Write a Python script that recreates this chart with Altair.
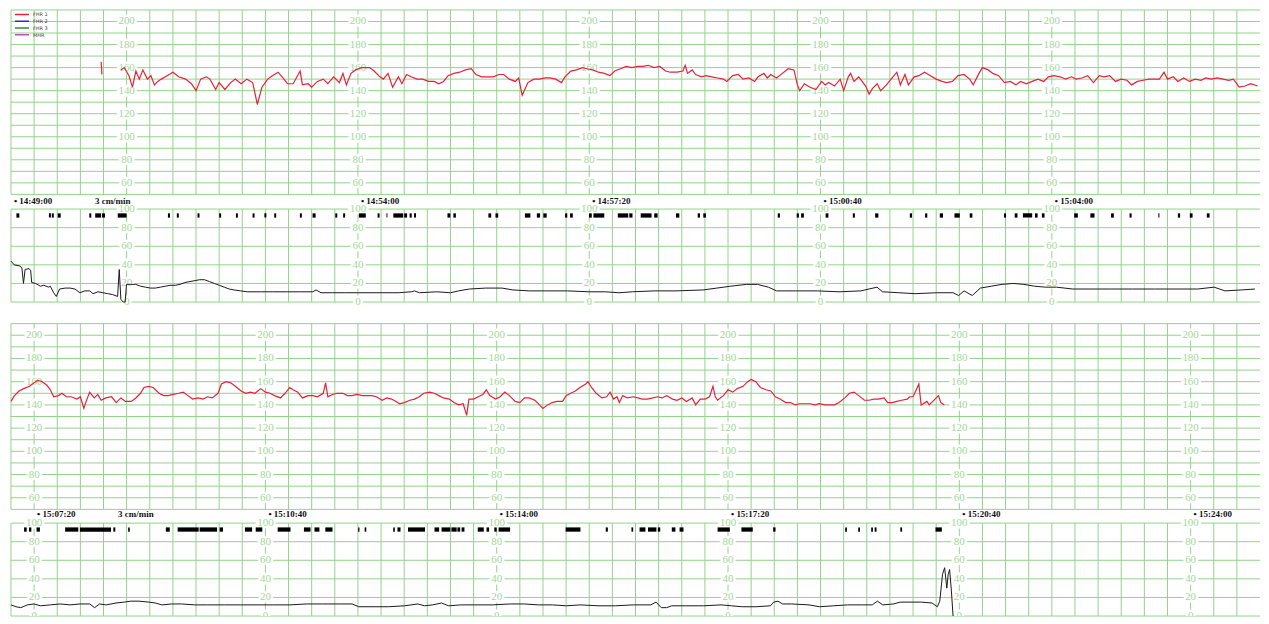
import altair as alt
import pandas as pd

# ---------------- data (seconds from 14:49:00) ----------------
# FHR, strip 1
FHR1_BLIP_T = [78.0, 78.6]
FHR1_BLIP_V = [165, 154]
FHR1_T_A = [95,98,102,105,108,111,114,118,121,124,127,130,135,140,145,151,156,160,164,169,172,177,180,185,190,194,199,204,209,213,217,222,226,231,236,239,244,250,252,257,260,265,270,274,279,284,287,290,294,298,303,310,314,319,322,326,330,335,338,342,346,351,356,361,366,370,374,378,383,388,393,398,402,407,412,417,422,426,431,436,439,442,447,452,457,462,466,471,476,479,484,489,494,498,503,508,513,518,522,527,532,537,542,546,551,556,561,566,570,576]
FHR1_V_A = [158,160,153,143,157,150,158,150,153,145,148,150,153,156,152,150,146,140,150,152,150,141,147,141,147,150,146,150,147,128,143,150,153,156,150,146,146,157,145,146,143,148,150,146,152,147,155,145,155,158,160,160,157,152,150,155,143,152,146,154,152,150,150,148,148,146,148,153,155,156,158,159,154,152,152,152,154,154,150,148,151,136,147,150,150,151,151,150,147,152,157,158,160,159,158,156,155,153,157,159,161,160,161,161,162,160,161,157,156,156]
FHR1_T_B = [581,583,585,589,592,597,601,606,611,616,619,624,629,633,638,643,646,651,654,657,662,667,672,677,680,682,686,691,696,701,704,707,712,717,720,724,726,729,733,736,739,742,745,749,752,757,761,766,769,773,776,781,785,790,795,800,805,809,814,819,824,829,832,837,840,845,849,854,859,864,869,873,878,883,888,893,897,902,907,912,917,921,926,931,936,941,945,950,955,960,965,969,974,979,984,989,993,997,1000,1005,1009,1014,1019,1024,1029,1033,1038,1043,1048,1053,1057,1062,1067,1072,1078]
FHR1_V_B = [157,162,155,158,154,152,153,152,151,150,148,153,154,150,151,148,152,155,151,154,151,155,159,158,145,140,146,143,141,148,145,147,144,150,140,152,155,148,152,148,144,137,142,146,140,145,150,156,145,154,145,152,153,156,153,150,148,147,148,153,154,150,145,155,160,158,155,153,147,148,145,148,146,148,150,148,152,153,152,150,152,150,151,153,147,153,152,153,148,150,149,145,148,149,150,150,150,156,150,152,148,151,148,150,149,151,150,151,150,149,150,143,144,146,144]

# FHR, strip 2
FHR2_T_A = [1080,1083,1087,1091,1096,1100,1103,1107,1111,1114,1117,1121,1124,1128,1132,1137,1140,1143,1145,1148,1152,1155,1158,1162,1167,1171,1175,1179,1184,1188,1192,1195,1199,1203,1208,1212,1216,1220,1225,1229,1233,1237,1242,1246,1250,1254,1259,1262,1266,1270,1274,1279,1283,1287,1291,1296,1300,1304,1308,1313,1317,1321,1324,1328,1332,1337,1341,1345,1350,1352,1354,1358,1362,1367,1371,1375,1379,1384,1388,1392,1396,1401,1405,1409,1413,1416,1420,1425,1429,1433,1437,1442,1446,1450,1454,1459,1463,1467,1471,1474,1476,1480,1484,1488]
FHR2_V_A = [143,148,152,154,156,159,161,160,157,153,147,148,150,147,147,145,147,137,143,151,146,149,144,146,147,142,146,143,143,146,150,155,156,155,150,148,148,149,150,151,148,145,146,145,147,146,150,158,160,159,156,152,150,151,150,154,151,150,148,146,150,155,153,151,146,148,148,147,150,159,147,149,150,150,148,148,149,148,148,148,147,144,146,145,143,141,142,144,145,147,150,151,150,148,146,145,142,140,141,131,145,145,147,149]
FHR2_T_B = [1491,1494,1499,1503,1507,1511,1516,1520,1524,1528,1533,1537,1540,1544,1548,1552,1557,1560,1564,1568,1572,1577,1579,1582,1586,1591,1595,1598,1601,1604,1606,1609,1613,1618,1622,1626,1630,1635,1639,1643,1647,1652,1656,1660,1664,1669,1672,1676,1680,1684,1687,1689,1691,1696,1700,1704,1708,1713,1717,1720,1724,1728,1733,1737,1741,1745,1750,1754,1758,1762,1767,1771,1775,1779,1784,1788,1792,1796,1801,1805,1809,1813,1818,1822,1826,1830,1835,1838,1842,1846,1850,1855,1857,1860,1865,1867,1872,1874,1879,1882,1884,1887]
FHR2_V_B = [153,148,145,147,151,148,143,142,146,146,144,140,137,140,142,143,143,148,150,152,155,158,160,155,150,146,147,151,145,147,142,148,146,147,146,145,145,146,147,146,148,145,144,146,143,146,140,145,145,147,156,147,144,148,153,151,154,156,160,162,160,155,153,152,147,145,142,142,140,141,141,141,140,141,140,140,140,142,146,150,151,148,144,144,145,145,146,142,142,143,144,145,147,147,158,140,143,140,145,148,142,140]

# Uterine activity, strip 1
UA1_T = [0,2.8,7.1,9.4,10.8,12.2,15.6,17.0,17.9,21.3,25.5,28.4,32.6,34.0,36.9,39.2,42.0,46.8,51.1,55.3,59.6,63.8,68.1,70.9,75.2,79.4,83.7,87.9,92.2,93.6,95.0,97.0,98.7,99.9,103.6,107.8,112.1,116.3,120.6,124.8,129.1,133.3,137.6,141.9,146.1,150.4,154.6,158.9,163.1,167.4,171.6,175.9,180.1,184.4,188.7,192.9,198.6,204.3,215.6,227.0,238.3,249.7,261.0,263.8,268.1,278.0,289.4,300.7,312.1,323.4,334.8,346.1,348.9,353.2,
         368.2,380.0,387.0,396.4,410.5,424.6,434.0,448.1,462.2,481.0,499.8,513.9,525.7,537.4,556.2,575.0,598.5,610.3,622.0,636.1,645.5,654.9,662.0,678.4,697.2,716.0,734.8,748.9,753.6,767.7,781.8,800.6,814.7,819.4,824.1,831.2,838.2,847.6,857.0,866.4,875.8,885.2,894.6,904.0,918.1,932.2,951.0,969.8,988.6,1007.4,1026.2,1040.3,1049.7,1063.8,1075.6]
UA1_V = [44,40,39,37,20,35,36,34,21,20,17,18,16,17,10,6,14,15,15,14,10,12,12,9,11,10,9,8,6,35,3,0,0,19,19,19,17,16,15,15,16,17,18,18,19,21,22,23,24,24,22,20,18,16,14,13,12,11,11,11,11,11,11,13,10,10,10,10,10,10,10,11,12,10,
         11,10,12,14,15,15,13,12,12,12,11,11,10,11,12,12,13,15,17,19,19,16,12,12,12,11,12,16,11,10,9,10,10,7,12,7,15,17,19,20,19,17,16,16,14,14,14,14,14,14,14,16,12,13,14]

# Uterine activity, strip 2
UA2_T = [1080,1084.3,1088.5,1094.2,1099.9,1105.5,1114.0,1122.6,1131.1,1139.6,1148.1,1152.3,1156.6,1162.3,1170.8,1177.9,1183.6,1190.6,1199.2,1204.8,1210.5,1219.0,1227.5,1238.9,1250.2,1264.4,1278.6,1292.8,1307.0,1321.1,1335.3,1349.5,1363.7,1375.0,1380.7,1392.1,1406.3,1420.4,1431.8,1437.5,
         1444.7,1452.3,1458.4,1469.0,1481.2,1496.4,1511.6,1523.8,1535.9,1548.1,1560.2,1572.4,1587.6,1602.8,1618.0,1633.2,1637.8,1642.3,1646.9,1651.4,1663.6,1678.8,1694.0,1703.1,1712.2,1724.4,1736.6,1739.6,1743.2,1747.2,1754.8,1770.0,1779.1,1791.3,1803.4,1815.6,1824.7,1829.3,1833.8,1843.0,1849.0,1858.2,1867.3,1876.4,1881.0,1883.1,1885.5,1887.3,1889.2,1890.4,1891.6,1893.1,1894.6]
UA2_V = [12,10,9,12,13,11,12,13,12,13,13,9,13,12,14,15,16,16,15,14,12,13,13,12,12,12,12,12,12,12,13,13,13,13,10,10,10,11,13,11,
         12,14,11,12,12,12,13,13,12,12,11,12,11,11,12,12,15,9,9,11,11,11,12,11,10,10,11,15,16,13,13,12,10,11,12,12,12,16,12,13,15,15,15,14,10,16,45,52,30,45,50,28,0]

# Fetal movement marks (start / end seconds)
MOVE1_S = [4.7,32.8,35.3,40.4,67.7,72.8,78.7,92.3,135.7,143.4,161.3,180.0,194.5,208.9,219.1,227.6,249.8,260.8,280.4,287.2,300.8,317.0,324.7,330.6,340.0,344.7,348.5,377.4,382.5,412.8,418.9,444.4,454.7,460.3,479.1,483.4,499.8,503.6,524.7,534.6,544.5,556.2,575.0,593.8,598.6,663.0,679.4,683.2,704.4,727.9,747.2,777.2,790.4,803.1,815.8,829.0,858.6,867.9,875.0,885.4,891.4,919.3,933.3,951.2,967.2,992.1,1009.0,1019.3,1034.0]
MOVE1_E = [7.2,34.5,37.0,43.0,69.4,77.9,81.3,100.0,137.5,145.1,163.0,181.7,196.2,210.6,220.8,229.3,251.5,263.4,282.1,288.9,306.8,318.7,325.5,339.1,342.5,346.5,350.2,379.9,384.7,415.2,421.3,449.1,457.5,463.2,481.0,485.8,502.2,513.0,533.7,537.4,553.9,559.1,577.9,595.8,600.9,664.9,681.3,685.6,706.8,729.7,750.0,779.1,792.3,805.9,820.4,831.3,860.4,870.3,883.0,887.7,893.7,922.5,936.9,953.6,969.0,993.0,1010.9,1021.7,1036.4]
MOVE2_S = [1091.3,1095.6,1102.1,1126.8,1139.6,1168.5,1181.3,1213.9,1224.1,1243.1,1260.4,1282.3,1291.6,1310.6,1333.3,1342.4,1351.8,1380.2,1385.8,1410.5,1414.2,1423.3,1446.2,1452.3,1460.8,1466.0,1469.6,1483.6,1491.2,1497.9,1501.6,1559.6,1594.3,1616.5,1623.5,1630.8,1639.3,1651.4,1658.1,1691.0,1711.6,1739.0,1801.3,1812.6,1823.8,1826.8,1849.0,1879.4]
MOVE2_E = [1093.6,1097.6,1105.0,1138.2,1166.5,1170.2,1182.7,1217.3,1242.3,1258.2,1263.3,1288.5,1297.3,1321.7,1339.0,1346.7,1358.0,1381.3,1387.2,1411.9,1416.8,1438.0,1450.2,1459.9,1465.4,1468.4,1472.1,1488.8,1493.4,1500.0,1511.6,1572.4,1596.1,1618.0,1628.6,1638.1,1641.4,1654.5,1661.5,1701.6,1721.4,1741.1,1802.8,1814.1,1825.3,1828.4,1850.5,1884.9]

# Time stamps and text
TIME1_T = [0, 300, 500, 700, 900]
TIME1_TXT = ["• 14:49:00", "• 14:54:00", "• 14:57:20", "• 15:00:40", "• 15:04:00"]
TIME2_T = [1100, 1300, 1500, 1700, 1900, 2100]
TIME2_TXT = ["• 15:07:20", "• 15:10:40", "• 15:14:00", "• 15:17:20", "• 15:20:40", "• 15:24:00"]
SPEED_T = [70, 1170]
SPEED_TXT = "3 cm/min"

SERIES = ["FHR 1", "FHR 2", "FHR 3", "MHR"]
SERIES_COLORS = ["#e8213a", "#2b2bd0", "#2f8f2f", "#c050c0"]

FHR_TICKS = [60, 80, 100, 120, 140, 160, 180, 200]
UA_TICKS = [0, 20, 40, 60, 80, 100]
ROW1_COLS = [100, 300, 500, 700, 900]
ROW2_COLS = [1100, 1300, 1500, 1700, 1900, 2100]

# ---------------- styling / layout ----------------
W = 1253
GRID = "#93d38b"
LABEL = "#9fd897"
SERIF = "Liberation Serif"
ROW_SPAN = 1080


def xs(t0):
    return alt.Scale(domain=[t0, t0 + ROW_SPAN], nice=False, zero=False)


def ys(lo, hi):
    return alt.Scale(domain=[lo, hi], nice=False, zero=False)


def grid_layers(t0, lo, hi, step, xsc, ysc):
    vdf = pd.DataFrame({"t": list(range(t0, t0 + ROW_SPAN, 20))})
    vdf["lo"] = lo
    vdf["hi"] = hi
    hdf = pd.DataFrame({"v": list(range(lo, hi + 1, step))})
    hdf["a"] = t0
    hdf["b"] = t0 + ROW_SPAN
    v = alt.Chart(vdf).mark_rule(color=GRID, strokeWidth=1).encode(
        x=alt.X("t:Q", scale=xsc, axis=None),
        y=alt.Y("lo:Q", scale=ysc, axis=None), y2="hi:Q")
    h = alt.Chart(hdf).mark_rule(color=GRID, strokeWidth=1).encode(
        y=alt.Y("v:Q", scale=ysc, axis=None),
        x=alt.X("a:Q", scale=xsc, axis=None), x2="b:Q")
    return [v, h]


def label_layers(cols, ticks, xsc, ysc, clip=False):
    rows = [(c, v, str(v)) for c in cols for v in ticks]
    df = pd.DataFrame(rows, columns=["t", "v", "txt"])
    enc = dict(x=alt.X("t:Q", scale=xsc, axis=None),
               y=alt.Y("v:Q", scale=ysc, axis=None), text="txt:N")
    halo = alt.Chart(df).mark_text(font=SERIF, fontSize=11, color="white",
                                   stroke="white", strokeWidth=5, clip=clip).encode(**enc)
    txt = alt.Chart(df).mark_text(font=SERIF, fontSize=11, color=LABEL, clip=clip).encode(**enc)
    return [halo, txt]


def time_layers(ts, txts, speed_t, yv, xsc, ysc):
    df = pd.DataFrame({"t": ts + [speed_t], "txt": txts + [SPEED_TXT]})
    df["y"] = yv
    return [alt.Chart(df).mark_text(font=SERIF, fontSize=9, fontWeight="bold", color="#111",
                                    align="left", baseline="middle", dx=3).encode(
        x=alt.X("t:Q", scale=xsc, axis=None),
        y=alt.Y("y:Q", scale=ysc, axis=None), text="txt:N")]


def move_layer(s, e, xsc, ysc, clip=False):
    df = pd.DataFrame({"s": s, "e": e})
    df["lo"] = 90.8
    df["hi"] = 95.4
    return alt.Chart(df).mark_rect(color="black", clip=clip).encode(
        x=alt.X("s:Q", scale=xsc, axis=None), x2="e:Q",
        y=alt.Y("lo:Q", scale=ysc, axis=None), y2="hi:Q")


# ----- FHR strip 1 -----
x1 = xs(0)
yf1 = ys(50, 210)
fhr1_df = pd.DataFrame({
    "t": FHR1_BLIP_T + FHR1_T_A + FHR1_T_B,
    "bpm": FHR1_BLIP_V + FHR1_V_A + FHR1_V_B,
    "seg": ["a"] * len(FHR1_BLIP_T) + ["b"] * (len(FHR1_T_A) + len(FHR1_T_B)),
})
fhr1_df["series"] = "FHR 1"
fhr1_line = alt.Chart(fhr1_df).mark_line(strokeWidth=1.2).encode(
    x=alt.X("t:Q", scale=x1, axis=None),
    y=alt.Y("bpm:Q", scale=yf1, axis=None),
    color=alt.Color("series:N", scale=alt.Scale(domain=SERIES, range=SERIES_COLORS),
                    legend=alt.Legend(title=None, orient="none", legendX=3, legendY=2,
                                      symbolType="stroke", symbolSize=200, symbolStrokeWidth=1.5,
                                      labelFontSize=5, labelFont="DejaVu Sans", labelColor="#444",
                                      rowPadding=0.8, clipHeight=5, labelOffset=3, padding=0)),
    detail="seg:N",
)
fhr1 = alt.layer(*grid_layers(0, 50, 210, 10, x1, yf1),
                 *label_layers(ROW1_COLS, FHR_TICKS, x1, yf1),
                 fhr1_line).properties(width=W, height=185)

# ----- UA strip 1 -----
yu1 = ys(0, 115.8)
ua1_df = pd.DataFrame({"t": UA1_T, "ua": UA1_V})
ua1_line = alt.Chart(ua1_df).mark_line(color="#1a1a1a", strokeWidth=1).encode(
    x=alt.X("t:Q", scale=x1, axis=None), y=alt.Y("ua:Q", scale=yu1, axis=None))
ua1 = alt.layer(*grid_layers(0, 0, 100, 20, x1, yu1),
                *label_layers(ROW1_COLS, UA_TICKS, x1, yu1),
                move_layer(MOVE1_S, MOVE1_E, x1, yu1),
                ua1_line,
                *time_layers(TIME1_T, TIME1_TXT, SPEED_T[0], 108.4, x1, yu1)
                ).properties(width=W, height=108)

# ----- FHR strip 2 -----
x2 = xs(1080)
yf2 = ys(50, 228.6)
fhr2_df = pd.DataFrame({"t": FHR2_T_A + FHR2_T_B, "bpm": FHR2_V_A + FHR2_V_B})
fhr2_line = alt.Chart(fhr2_df).mark_line(strokeWidth=1.2, color=SERIES_COLORS[0]).encode(
    x=alt.X("t:Q", scale=x2, axis=None), y=alt.Y("bpm:Q", scale=yf2, axis=None))
fhr2 = alt.layer(*grid_layers(1080, 50, 210, 10, x2, yf2),
                 *label_layers(ROW2_COLS, FHR_TICKS, x2, yf2),
                 fhr2_line).properties(width=W, height=208)

# ----- UA strip 2 -----
yu2 = ys(0, 114.8)
ua2_df = pd.DataFrame({"t": UA2_T, "ua": UA2_V})
ua2_line = alt.Chart(ua2_df).mark_line(color="#1a1a1a", strokeWidth=1, clip=True).encode(
    x=alt.X("t:Q", scale=x2, axis=None), y=alt.Y("ua:Q", scale=yu2, axis=None))
ua2 = alt.layer(*grid_layers(1080, 0, 100, 20, x2, yu2),
                *label_layers(ROW2_COLS, UA_TICKS, x2, yu2, clip=True),
                move_layer(MOVE2_S, MOVE2_E, x2, yu2),
                ua2_line,
                *time_layers(TIME2_T, TIME2_TXT, SPEED_T[1], 109.5, x2, yu2)
                ).properties(width=W, height=107)

chart = alt.vconcat(fhr1, ua1, fhr2, ua2, spacing=0, bounds="flush").configure_view(
    strokeWidth=0).properties(padding=0, background="white")

chart.save("out.html", embed_options={"renderer": "svg", "actions": False})
